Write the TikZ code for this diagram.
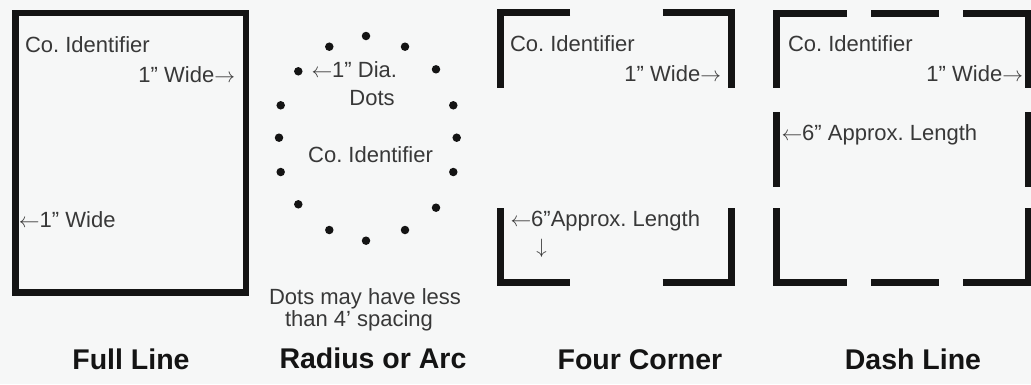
\documentclass[tikz,border=0pt]{standalone}
\usepackage{fontspec}
\setmainfont{Liberation Sans}
\frenchspacing
\definecolor{bgc}{rgb}{0.965,0.969,0.969}
\definecolor{txt}{rgb}{0.22,0.22,0.22}
\definecolor{ink}{rgb}{0.08,0.08,0.08}
\newcommand\myL{{\fontsize{20}{20}\selectfont$\leftarrow$}}
\newcommand\myR{{\fontsize{20}{20}\selectfont$\rightarrow$}}
\newcommand\myD{{\fontsize{21}{21}\selectfont$\downarrow$}}
\begin{document}
\begin{tikzpicture}[x=1pt,y=-1pt,
  lbl/.style={inner sep=0pt,outer sep=0pt,text=txt,font=\fontsize{22}{22}\selectfont},
  ttl/.style={inner sep=0pt,outer sep=0pt,text=ink,font=\fontsize{28.5}{28.5}\selectfont\bfseries,anchor=base},
  bar/.style={draw=ink,line width=6.5pt,line cap=butt,line join=miter},
  dot/.style={circle,fill=ink,inner sep=0pt,minimum size=8.5pt}]
\fill[bgc] (0,0) rectangle (1031,384);
\useasboundingbox (0,0) rectangle (1031,384);
% Full line
\draw[bar] (15.5,13) rectangle (246,292.5);
\node[lbl,anchor=base west] (fl1) at (25,52) {Co. Identifier};
\node[lbl,anchor=base east] (fl2) at (235,82) {1” Wide\myR};
\node[lbl,anchor=base west] (fl3) at (19,227) {\myL1” Wide};
\node[ttl] (flt) at (131,369) {Full Line};
% Radius or arc
\foreach \p [count=\i] in {(366,36),(329.3,46.7),(405,46.7),(298.3,71.3),(436,69.3),(280.7,105.3),(453.3,105.3),(279,137.7),(456.7,137.7),(280.7,172),(453.3,172),(298.3,204.3),(436,207.7),(329.3,230),(405,230),(366,240.7)}
  \node[dot] (d\i) at \p {};
\node[lbl,anchor=base west] (ra1) at (311.5,77.3) {\myL1” Dia.};
\node[lbl,anchor=base] (ra2) at (372,105.5) {Dots};
\node[lbl,anchor=base] (ra3) at (370.5,162.7) {Co. Identifier};
\node[lbl,anchor=base] (ra4) at (365,304.5) {Dots may have less};
\node[lbl,anchor=base] (ra5) at (359,326) {than 4’ spacing};
\node[ttl] (rat) at (373,368) {Radius or Arc};
% Four corner
\draw[bar] (570,12.7) -- (500.7,12.7) -- (500.7,88);
\draw[bar] (662.7,12.7) -- (731.7,12.7) -- (731.7,88);
\draw[bar] (500.7,208) -- (500.7,282.7) -- (570,282.7);
\draw[bar] (662.7,282.7) -- (731.7,282.7) -- (731.7,208);
\node[lbl,anchor=base west] (fc1) at (510,51) {Co. Identifier};
\node[lbl,anchor=base east] (fc2) at (721,81) {1” Wide\myR};
\node[lbl,anchor=base west] (fc3) at (510.5,226) {\myL6”Approx. Length};
\node[lbl,anchor=base] (fc4) at (541.5,253) {\myD};
\node[ttl] (fct) at (640,369) {Four Corner};
% Dash line
\draw[bar] (847,13.3) -- (776.7,13.3) -- (776.7,88);
\draw[bar] (871,13.3) -- (939,13.3);
\draw[bar] (963,13.3) -- (1028,13.3) -- (1028,88);
\draw[bar] (776.7,112) -- (776.7,187);
\draw[bar] (1028,112) -- (1028,187);
\draw[bar] (776.7,208) -- (776.7,282.7) -- (847,282.7);
\draw[bar] (871,282.7) -- (939,282.7);
\draw[bar] (963,282.7) -- (1028,282.7) -- (1028,208);
\node[lbl,anchor=base west] (dl1) at (788,51) {Co. Identifier};
\node[lbl,anchor=base east] (dl2) at (1023,81) {1” Wide\myR};
\node[lbl,anchor=base west] (dl3) at (781.5,140) {\myL6” Approx. Length};
\node[ttl] (dlt) at (913,369) {Dash Line};
\end{tikzpicture}
\end{document}
